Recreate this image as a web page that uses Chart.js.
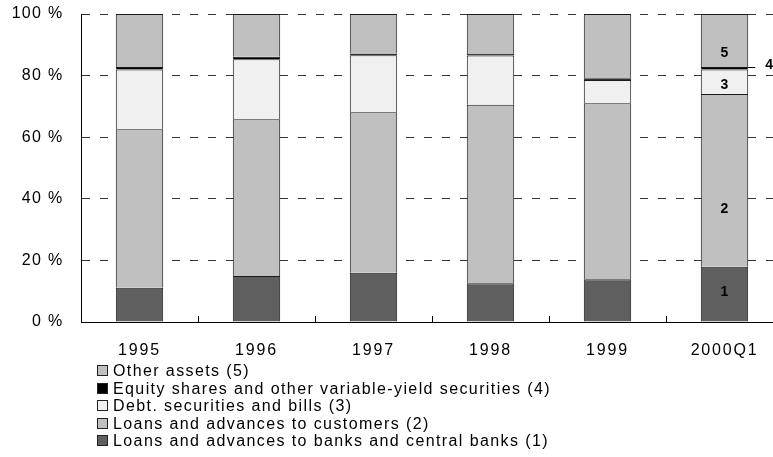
<!DOCTYPE html>
<html lang="en">
<head>
    <meta charset="UTF-8">
    <title>Bank assets structure</title>
    <style>
        body {
            margin: 0;
            padding: 0;
            background: #fff;
            overflow: hidden;
            font-family: 'Liberation Sans', Arial, sans-serif;
        }
        .wrap {
            position: relative;
            width: 773px;
            height: 457px;
            overflow: hidden;
        }
        #legend {
            position: absolute;
            left: 97px;
            top: 362px;
            font-size: 16px;
            line-height: 17.5px;
            letter-spacing: 1.4px;
            color: #000;
        }
        #legend .row {
            white-space: nowrap;
            display: flex;
            align-items: center;
        }
        #legend .box {
            width: 9px;
            height: 9px;
            border: 1px solid #222;
            margin-right: 5px;
        }
    </style>
</head>
<body>
    <div class="wrap">
        <canvas id="chart" width="790" height="457"></canvas>
        <div id="legend"></div>
    </div>

    <script src="https://cdn.jsdelivr.net/npm/chart.js"></script>
    <script>
        // categories and series (% of total assets)
        const years = ['1995', '1996', '1997', '1998', '1999', '2000Q1'];
        const seriesNames = [
            'Loans and advances to banks and central banks (1)',
            'Loans and advances to customers (2)',
            'Debt. securities and bills (3)',
            'Equity shares and other variable-yield securities (4)',
            'Other assets (5)'
        ];
        const banks = [11.1, 14.9, 16.0, 12.6, 13.9, 17.9];
        const customers = [51.5, 50.9, 52.1, 57.9, 57.1, 56.1];
        const debtSecurities = [19.4, 19.5, 18.5, 16.0, 7.6, 8.0];
        const equityShares = [0.8, 0.8, 0.6, 0.5, 0.5, 0.8];
        const otherAssets = [17.2, 13.9, 12.8, 13.0, 20.9, 17.2];
        const yTicks = [0, 20, 40, 60, 80, 100];

        const colors = ['#5f5f5f', '#c0c0c0', '#f0f0f0', '#000000', '#c0c0c0'];
        const allSeries = [banks, customers, debtSecurities, equityShares, otherAssets];

        Chart.defaults.font.family = "'Liberation Sans', Arial, sans-serif";
        Chart.defaults.color = '#000';

        // axis labels are letter-spaced in the original
        function spaceLabels(sc, spacing) {
            if (sc._spaced) return;
            const orig = sc.drawLabels;
            sc.drawLabels = function (area) {
                this.ctx.save();
                this.ctx.letterSpacing = spacing;
                orig.call(this, area);
                this.ctx.restore();
            };
            sc._spaced = true;
        }
        const spacedLabels = {
            id: 'spacedLabels',
            afterLayout(chart) {
                spaceLabels(chart.scales.x, '1.8px');
                spaceLabels(chart.scales.y, '1.3px');
            }
        };

        // numbers written on the last bar (y given in axis units)
        const segmentLabels = {
            id: 'segmentLabels',
            afterDatasetsDraw(chart) {
                const ctx = chart.ctx;
                const y = chart.scales.y;
                const last = years.length - 1;
                const bar = chart.getDatasetMeta(0).data[last];
                const spots = [['1', 9.8], ['2', 36.7], ['3', 76.9], ['5', 87.3]];
                ctx.save();
                ctx.font = 'bold 14px "Liberation Sans", Arial, sans-serif';
                ctx.fillStyle = '#000';
                ctx.textAlign = 'center';
                ctx.textBaseline = 'middle';
                spots.forEach(([t, v]) => ctx.fillText(t, bar.x, y.getPixelForValue(v)));

                // "4" sits outside the bar with a short leader line
                const eq = chart.getDatasetMeta(3).data[last];
                const right = eq.x + eq.width / 2;
                ctx.strokeStyle = '#000';
                ctx.lineWidth = 1;
                ctx.beginPath();
                ctx.moveTo(right, Math.round(eq.y) + 0.5);
                ctx.lineTo(right + 7, Math.round(eq.y) + 0.5);
                ctx.stroke();
                ctx.textAlign = 'left';
                ctx.fillText('4', right + 17, eq.y - 2);
                ctx.restore();
            }
        };

        const datasets = allSeries.map((data, i) => ({
            label: seriesNames[i],
            data: data,
            backgroundColor: colors[i],
            borderColor: '#1a1a1a',
            borderWidth: 1,
            categoryPercentage: 1,
            barPercentage: 0.405
        }));

        new Chart(document.getElementById('chart'), {
            type: 'bar',
            data: { labels: years, datasets: datasets },
            options: {
                responsive: false,
                animation: false,
                devicePixelRatio: 1,
                layout: { padding: { left: 0, right: 7, top: 14, bottom: 95 } },
                plugins: {
                    legend: { display: false },
                    tooltip: { enabled: false }
                },
                scales: {
                    x: {
                        stacked: true,
                        grid: {
                            offset: true,
                            drawOnChartArea: false,
                            drawTicks: true,
                            tickLength: -6,
                            tickColor: '#000'
                        },
                        border: { color: '#000', width: 1 },
                        ticks: { font: { size: 16 }, padding: 25, maxRotation: 0 },
                        afterFit(sc) {
                            sc.height = 40;
                            sc.paddingLeft = 0;
                            sc.paddingRight = 0;
                        }
                    },
                    y: {
                        stacked: true,
                        min: 0,
                        max: 100,
                        afterBuildTicks(sc) {
                            sc.ticks = yTicks.map(v => ({ value: v }));
                        },
                        grid: { color: '#333', drawTicks: false },
                        border: { color: '#000', width: 1, dash: [8, 10] },
                        ticks: {
                            font: { size: 16 },
                            padding: 17.5,
                            callback: v => v + ' %'
                        },
                        afterFit(sc) {
                            sc.width = 81;
                            sc.paddingTop = 0;
                            sc.paddingBottom = 0;
                        }
                    }
                }
            },
            plugins: [spacedLabels, segmentLabels]
        });

        // vertical legend, top entry = top segment
        const legend = document.getElementById('legend');
        for (let i = seriesNames.length - 1; i >= 0; i--) {
            const row = document.createElement('div');
            row.className = 'row';
            const box = document.createElement('span');
            box.className = 'box';
            box.style.background = colors[i];
            const txt = document.createElement('span');
            txt.textContent = seriesNames[i];
            row.appendChild(box);
            row.appendChild(txt);
            legend.appendChild(row);
        }
    </script>
</body>
</html>
